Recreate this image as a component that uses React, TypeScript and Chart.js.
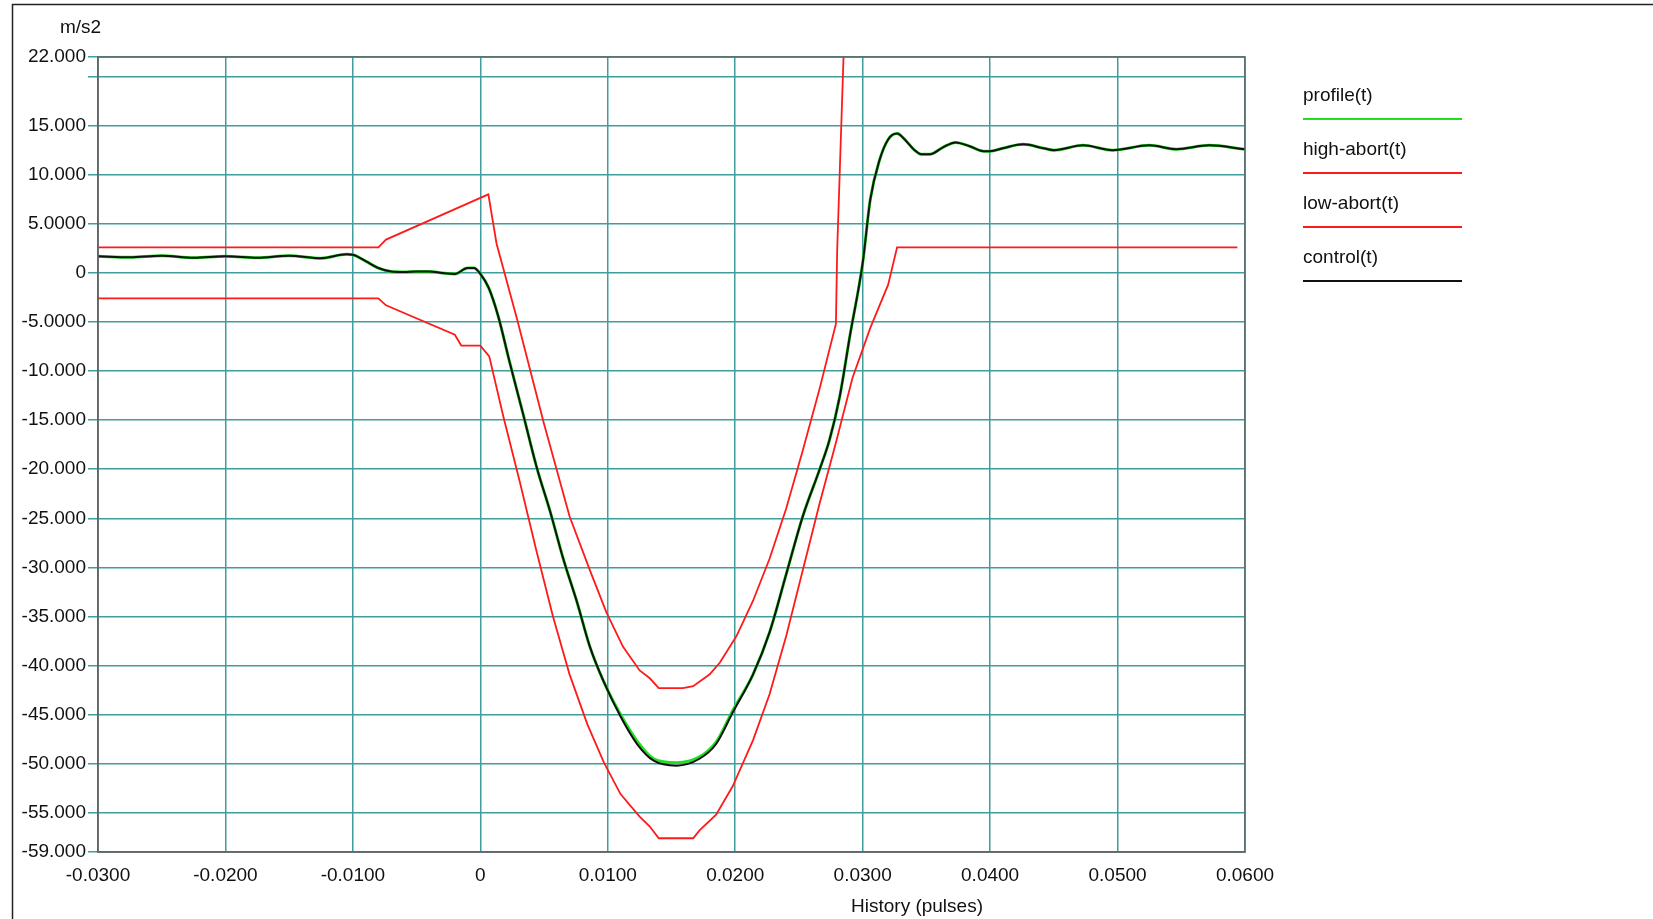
import { Chart, registerables } from 'chart.js'
import { useEffect, useRef } from 'react'

Chart.register(...registerables)

// data
const controlX = [-0.03, -0.0275, -0.025, -0.0225, -0.02, -0.0175, -0.015, -0.0125, -0.0105, -0.01, -0.009, -0.008, -0.007, -0.006, -0.005, -0.004, -0.003, -0.002, -0.001, -0.0005, 0, 0.00065, 0.0014, 0.0023, 0.0034, 0.0044, 0.0055, 0.0065, 0.0076, 0.0086, 0.0097, 0.011, 0.0123, 0.0136, 0.0154, 0.0172, 0.0185, 0.0198, 0.0214, 0.0227, 0.024, 0.0253, 0.0266, 0.0274, 0.0282, 0.029, 0.03, 0.0306, 0.0313, 0.032, 0.0327, 0.0333, 0.034, 0.0346, 0.0353, 0.0363, 0.0373, 0.0384, 0.0395, 0.04, 0.041, 0.0426, 0.0442, 0.045, 0.0473, 0.0496, 0.0525, 0.0546, 0.0572, 0.06]
const controlY = [1.7, 1.6, 1.75, 1.55, 1.7, 1.55, 1.75, 1.5, 1.9, 1.85, 1.2, 0.5, 0.15, 0.1, 0.15, 0.15, 0.0, -0.1, 0.5, 0.5, -0.1, -1.5, -4.4, -9.1, -14.6, -19.7, -24.4, -29.1, -33.6, -38.1, -41.7, -45.2, -48, -49.7, -50.2, -49.5, -48, -44.8, -40.9, -36.6, -30.7, -24.8, -20.1, -17, -12.6, -6.4, 1, 7.5, 11.4, 13.6, 14.2, 13.6, 12.6, 12.1, 12.1, 12.8, 13.3, 12.9, 12.4, 12.4, 12.7, 13.1, 12.7, 12.5, 13.0, 12.5, 13.0, 12.6, 13.0, 12.6]
const profileY = [1.7, 1.6, 1.75, 1.55, 1.7, 1.55, 1.75, 1.5, 1.9, 1.85, 1.2, 0.5, 0.15, 0.1, 0.15, 0.15, 0.0, -0.1, 0.5, 0.5, -0.1, -1.5, -4.4, -9.1, -14.6, -19.7, -24.4, -29.1, -33.6, -38.1, -41.7, -45.0, -47.7, -49.5, -49.9, -49.3, -47.8, -44.6, -40.9, -36.6, -30.7, -24.8, -20.1, -17, -12.6, -6.4, 1, 7.5, 11.4, 13.6, 14.2, 13.6, 12.6, 12.1, 12.1, 12.8, 13.3, 12.9, 12.4, 12.4, 12.7, 13.1, 12.7, 12.5, 13.0, 12.5, 13.0, 12.6, 13.0, 12.6]

const highX = [-0.03, -0.008, -0.0074, 0.00063, 0.00127, 0.0029, 0.005, 0.007, 0.0086, 0.0099, 0.0112, 0.0125, 0.0133, 0.014, 0.0159, 0.0167, 0.018, 0.0188, 0.0201, 0.0214, 0.0227, 0.024, 0.0253, 0.0266, 0.0279, 0.028, 0.0287]
const highY = [2.6, 2.6, 3.4, 8.0, 3.0, -4.8, -15.4, -24.8, -30.3, -34.6, -38.1, -40.5, -41.3, -42.3, -42.3, -42.1, -40.9, -39.7, -37, -33.4, -29.1, -24, -18.1, -11.9, -5.2, 2.3, 30]

const lowX = [-0.03, -0.008, -0.0074, -0.002, -0.0015, 0, 0.0007, 0.0018, 0.0031, 0.0044, 0.0057, 0.007, 0.0084, 0.0097, 0.011, 0.0125, 0.0133, 0.014, 0.0167, 0.0172, 0.0185, 0.0198, 0.0214, 0.0227, 0.024, 0.0253, 0.0266, 0.0279, 0.0292, 0.0306, 0.032, 0.0327, 0.0594]
const lowY = [-2.6, -2.6, -3.3, -6.3, -7.4, -7.4, -8.5, -14.6, -21.3, -28.3, -35, -40.9, -46, -49.9, -53.1, -55.4, -56.4, -57.6, -57.6, -56.8, -55.2, -52.3, -47.6, -42.9, -37, -30.3, -23.6, -17.3, -10.7, -5.6, -1.2, 2.6, 2.6]

const yTicks = [-59, -55, -50, -45, -40, -35, -30, -25, -20, -15, -10, -5, 0, 5, 10, 15, 20, 22]
const yLabels: Record<string, string> = {
  '-59': '-59.000', '-55': '-55.000', '-50': '-50.000', '-45': '-45.000', '-40': '-40.000', '-35': '-35.000',
  '-30': '-30.000', '-25': '-25.000', '-20': '-20.000', '-15': '-15.000', '-10': '-10.000', '-5': '-5.0000',
  '0': '0', '5': '5.0000', '10': '10.000', '15': '15.000', '20': '', '22': '22.000',
}
const xTicks = [-0.03, -0.02, -0.01, 0, 0.01, 0.02, 0.03, 0.04, 0.05, 0.06]
const xLabels = ['-0.0300', '-0.0200', '-0.0100', '0', '0.0100', '0.0200', '0.0300', '0.0400', '0.0500', '0.0600']

const FONT = '"Liberation Sans", Arial, sans-serif'
const GRID = '#3f9d9d'

const pts = (xs: number[], ys: number[]) => xs.map((x, i) => ({ x, y: ys[i] }))

// frame, unit label, axis title and legend
const Decor = {
  id: 'decor',
  // @ts-expect-error loose types
  afterDraw(chart) {
    const { ctx, chartArea: a } = chart
    ctx.save()
    ctx.strokeStyle = '#222'
    ctx.lineWidth = 1.5
    ctx.beginPath()
    ctx.moveTo(12.5, 919)
    ctx.lineTo(12.5, 4.5)
    ctx.lineTo(1653, 4.5)
    ctx.stroke()
    ctx.strokeStyle = '#666'
    ctx.strokeRect(a.left, a.top, a.right - a.left, a.bottom - a.top)
    ctx.fillStyle = '#111'
    ctx.font = `19px ${FONT}`
    ctx.textAlign = 'left'
    ctx.textBaseline = 'middle'
    ctx.fillText('m/s2', 60, 28)
    ctx.textAlign = 'center'
    ctx.fillText('History (pulses)', 917, 907)
    ctx.textAlign = 'left'
    const items = [
      ['profile(t)', '#22dd22'],
      ['high-abort(t)', '#ff1a1a'],
      ['low-abort(t)', '#ff1a1a'],
      ['control(t)', '#111'],
    ]
    items.forEach(([label, color], i) => {
      const y = 96 + i * 54
      ctx.fillStyle = '#111'
      ctx.fillText(label, 1303, y)
      ctx.strokeStyle = color
      ctx.lineWidth = 2
      ctx.beginPath()
      ctx.moveTo(1303, y + 23)
      ctx.lineTo(1462, y + 23)
      ctx.stroke()
    })
    ctx.restore()
  },
}

export default function App() {
  const ref = useRef<HTMLCanvasElement>(null)

  useEffect(() => {
    if (!ref.current) return
    const smooth = { cubicInterpolationMode: 'monotone' as const }
    const chart = new Chart(ref.current, {
      type: 'scatter',
      data: {
        datasets: [
          { label: 'profile(t)', data: pts(controlX, profileY), borderColor: '#22dd22', borderWidth: 3, order: 3, ...smooth },
          { label: 'high-abort(t)', data: pts(highX, highY), borderColor: '#ff1a1a', borderWidth: 1.8, order: 2 },
          { label: 'low-abort(t)', data: pts(lowX, lowY), borderColor: '#ff1a1a', borderWidth: 1.8, order: 2 },
          { label: 'control(t)', data: pts(controlX, controlY), borderColor: '#111', borderWidth: 2, order: 1, ...smooth },
        ].map(d => ({ ...d, showLine: true, pointRadius: 0, fill: false })),
      },
      options: {
        animation: false,
        responsive: false,
        layout: { padding: { top: 57, right: 408, left: 0, bottom: 0 } },
        plugins: { legend: { display: false }, tooltip: { enabled: false } },
        scales: {
          x: {
            type: 'linear',
            min: -0.03,
            max: 0.06,
            afterBuildTicks: (s: any) => { s.ticks = xTicks.map(v => ({ value: v })) },
            afterFit: (s: any) => { s.height = 67 },
            ticks: {
              autoSkip: false,
              maxRotation: 0,
              color: '#111',
              font: { family: FONT, size: 19 },
              padding: 12,
              callback: (_v: any, i: number) => xLabels[i],
            },
            grid: { color: GRID, lineWidth: 1.5, tickLength: 0 },
            border: { color: '#666', width: 1.5 },
          },
          y: {
            type: 'linear',
            min: -59,
            max: 22,
            afterBuildTicks: (s: any) => { s.ticks = yTicks.map(v => ({ value: v })) },
            afterFit: (s: any) => { s.width = 98 },
            ticks: {
              autoSkip: false,
              color: '#111',
              font: { family: FONT, size: 19 },
              padding: 2,
              callback: (v: any) => yLabels[String(v)],
            },
            grid: { color: GRID, lineWidth: 1.5, tickLength: 10 },
            border: { color: '#666', width: 1.5 },
          },
        },
      },
      plugins: [Decor],
    })
    return () => chart.destroy()
  }, [])

  return (
    <div style={{ position: 'absolute', left: 0, top: 0, width: 1653, height: 919, background: '#fff' }}>
      <canvas ref={ref} width={1653} height={919} style={{ width: 1653, height: 919 }} />
    </div>
  )
}
